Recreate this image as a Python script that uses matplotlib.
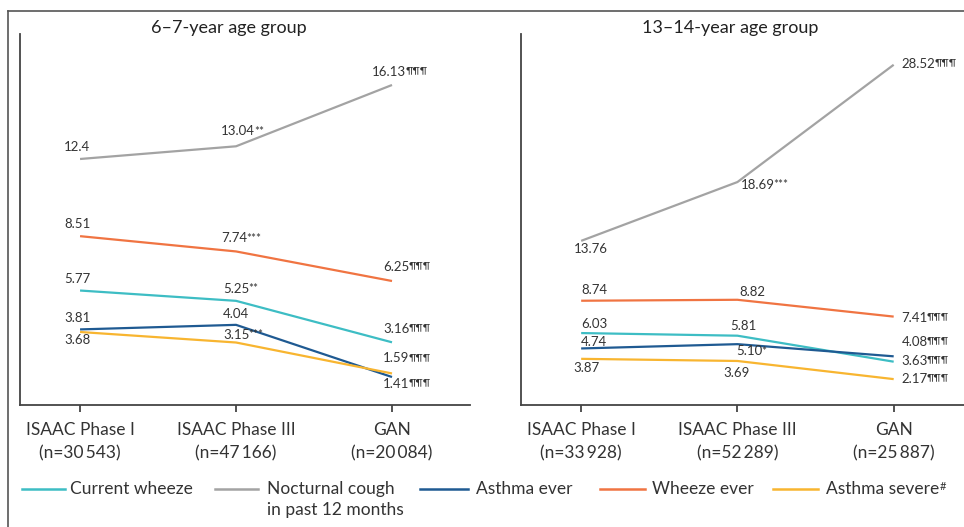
import matplotlib
matplotlib.use('Agg')
import matplotlib.pyplot as plt
from matplotlib.lines import Line2D

plt.rcParams['font.family'] = ['Lato', 'DejaVu Sans']

# ---- data ----
phases = ['ISAAC Phase I', 'ISAAC Phase III', 'GAN']
n_young = ['30\u2009543', '47\u2009166', '20\u2009084']
n_old = ['33\u2009928', '52\u2009289', '25\u2009887']

series_names = ['Current wheeze', 'Nocturnal cough\nin past 12 months',
                'Asthma ever', 'Wheeze ever', 'Asthma severe']
series_marks = ['', '', '', '', '#']
series_colors = ['#3dbdc4', '#a3a3a3', '#1f5a92', '#f07442', '#f8b530']

young_current = [5.77, 5.25, 3.16]
young_cough = [12.4, 13.04, 16.13]
young_asthma = [3.81, 4.04, 1.41]
young_wheeze = [8.51, 7.74, 6.25]
young_severe = [3.68, 3.15, 1.59]

old_current = [6.03, 5.81, 3.63]
old_cough = [13.76, 18.69, 28.52]
old_asthma = [4.74, 5.10, 4.08]
old_wheeze = [8.74, 8.82, 7.41]
old_severe = [3.87, 3.69, 2.17]

young_labels = [['5.77', '5.25', '3.16'], ['12.4', '13.04', '16.13'],
                ['3.81', '4.04', '1.41'], ['8.51', '7.74', '6.25'],
                ['3.68', '3.15', '1.59']]
old_labels = [['6.03', '5.81', '3.63'], ['13.76', '18.69', '28.52'],
              ['4.74', '5.10', '4.08'], ['8.74', '8.82', '7.41'],
              ['3.87', '3.69', '2.17']]
young_sig = [['', '**', '¶¶¶'], ['', '**', '¶¶¶'], ['', '', '¶¶¶'],
             ['', '***', '¶¶¶'], ['', '***', '¶¶¶']]
old_sig = [['', '', '¶¶¶'], ['', '***', '¶¶¶'], ['', '*', '¶¶¶'],
           ['', '', '¶¶¶'], ['', '', '¶¶¶']]

# label offsets in pixels (left edge dx, centre dy)
young_off = [[(-16, 13), (-13, 13), (-9, 14)],
             [(-16, 13), (-15, 16), (-20, 14)],
             [(-16, 12), (-13, 12), (-9, -6)],
             [(-16, 13), (-15, 14), (-9, 15)],
             [(-16, -7), (-13, 9), (-9, 16)]]
old_off = [[(0, 10), (-7, 11), (8, 2)],
           [(-7, -7), (3, -2), (8, 2)],
           [(0, 7), (-1, -6), (8, 15)],
           [(0, 12), (2, 9), (8, 0)],
           [(-8, -8), (-14, -11), (8, 1)]]

W, H = 964, 527
TXT = '#333333'
fig = plt.figure(figsize=(W / 100, H / 100), dpi=100)

axL = fig.add_axes([20 / W, 1 - 405 / H, 450 / W, 371 / H])
axR = fig.add_axes([521 / W, 1 - 405 / H, 443 / W, 371 / H])

panels = [
    (axL, [young_current, young_cough, young_asthma, young_wheeze, young_severe],
     young_labels, young_sig, young_off, n_young, 18.7, '6–7-year age group', 229),
    (axR, [old_current, old_cough, old_asthma, old_wheeze, old_severe],
     old_labels, old_sig, old_off, n_old, 31.1, '13–14-year age group', 730),
]

x = [0, 1, 2]
for ax, data, labels, sigs, offs, ns, ytop, title, tx in panels:
    for k, vals in enumerate(data):
        ax.plot(x, vals, color=series_colors[k], lw=1.6, solid_capstyle='butt')
        for j, v in enumerate(vals):
            dx, dy = offs[k][j]
            t = ax.annotate(labels[k][j], xy=(x[j], v), xytext=(dx, dy - 5),
                            textcoords='offset pixels', ha='left', va='baseline',
                            fontsize=9.5, color=TXT)
            s = sigs[k][j]
            if s:
                ax.annotate(s, xy=(1.0, 0.97), xycoords=t, xytext=(-1, 0),
                            textcoords='offset pixels', ha='left', va='top',
                            fontsize=8.5 if '*' in s else 7.5, color=TXT)
    ax.set_xlim(-0.385, 2.5 if ax is axL else 2.45)
    ax.set_ylim(0, ytop)
    ax.set_xticks(x)
    ax.set_xticklabels([f'{p}\n(n={n})' for p, n in zip(phases, ns)],
                       fontsize=12.5, color=TXT, linespacing=1.55)
    ax.set_yticks([])
    for s in ['top', 'right']:
        ax.spines[s].set_visible(False)
    for s in ['left', 'bottom']:
        ax.spines[s].set_color('#444444')
        ax.spines[s].set_linewidth(1.3)
    ax.tick_params(axis='x', direction='out', length=5, width=1.3,
                   color='#444444', pad=7)
    fig.text(tx / W, 1 - 28 / H, title, ha='center', va='center',
             fontsize=13, color='#222222')

# outer frame lines
fig.add_artist(Line2D([8 / W, 1], [1 - 11 / H, 1 - 11 / H],
                      transform=fig.transFigure, color='#555555', lw=1.2))
fig.add_artist(Line2D([8 / W, 8 / W], [1 - 11 / H, 0],
                      transform=fig.transFigure, color='#555555', lw=1.2))

# legend row
leg_line_x = [(22, 65), (215, 258), (420, 468), (600, 645), (773, 818)]
leg_text_x = [70, 267, 476, 652, 826]
leg_y = 1 - 489 / H
for k, name in enumerate(series_names):
    x0, x1 = leg_line_x[k]
    fig.add_artist(Line2D([x0 / W, x1 / W], [leg_y, leg_y],
                          transform=fig.transFigure,
                          color=series_colors[k], lw=1.8))
    lt = fig.text(leg_text_x[k] / W, 1 - 481 / H, name, ha='left', va='top',
                  fontsize=12.5, color=TXT, linespacing=1.4)
    if series_marks[k]:
        axL.annotate(series_marks[k], xy=(1.0, 0.97), xycoords=lt,
                     ha='left', va='top', fontsize=8, color=TXT,
                     annotation_clip=False)

fig.savefig('out.png', dpi=100)
